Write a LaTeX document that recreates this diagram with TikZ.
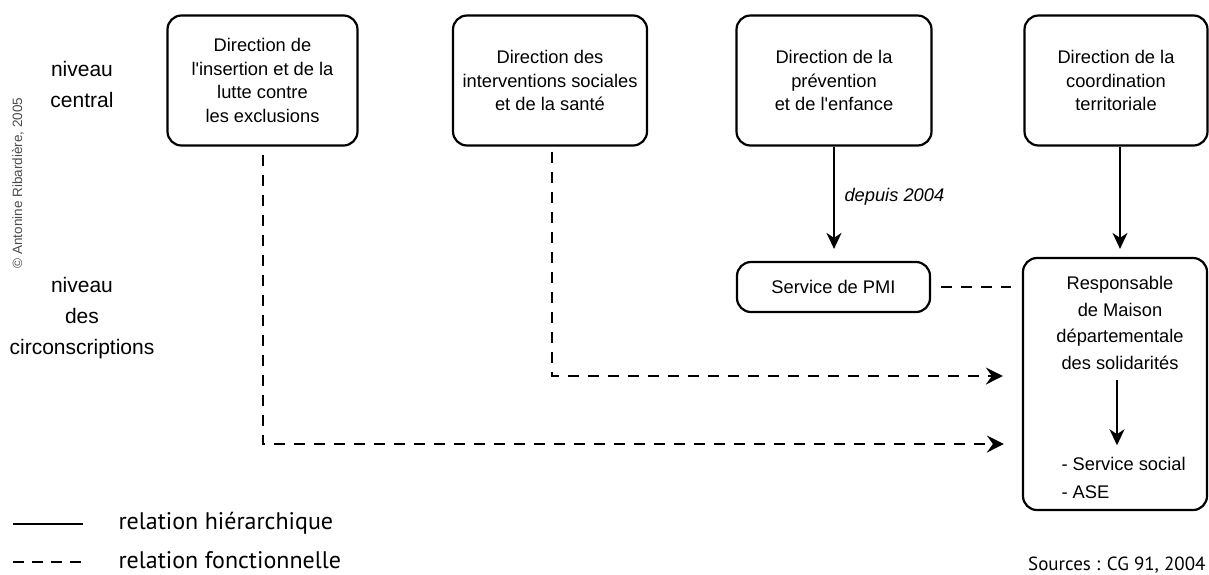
\documentclass[tikz,border=0pt]{standalone}
\usepackage{fontspec}
\setmainfont{Liberation Sans}[Ligatures=TeXOff]
\newfontfamily\legendfont{PT Sans}
\usetikzlibrary{arrows.meta,calc}
\begin{document}
\begin{tikzpicture}[x=1pt,y=-1pt,
  box/.style={draw, line width=2.2pt, rounded corners=14pt, align=center, inner sep=0pt, font=\fontsize{18.3}{23.5}\selectfont},
  hier/.style={line width=2pt, -{Stealth[length=16pt,width=15pt,inset=5pt]}},
  func/.style={line width=2.2pt, dash pattern=on 11pt off 9pt},
  funcarr/.style={func, -{Stealth[length=17pt,width=17pt,inset=6pt]}},
  lbl/.style={align=center, font=\fontsize{21}{31}\selectfont},
  leg/.style={anchor=west, font=\legendfont\fontsize{24}{28}\selectfont}
]
\useasboundingbox (0,0) rectangle (1209,574);
\fill[white] (0,0) rectangle (1209,574);

% left labels
\node[rotate=90, text=black!70, font=\fontsize{13.5}{16}\selectfont] (copy) at (18,183) {© Antonine Ribardière, 2005};
\node[lbl] (nc) at (82,84) {niveau\\central};
\node[lbl] (nd) at (82,318) {niveau\\des\\circonscriptions};

% top boxes
\node[box, minimum width=190pt, minimum height=130pt] (b1) at (262.5,80.5) {Direction de\\l'insertion et de la\\lutte contre\\les exclusions};
\node[box, minimum width=194pt, minimum height=130pt] (b2) at (550,80.5) {Direction des\\interventions sociales\\et de la santé};
\node[box, minimum width=195pt, minimum height=130pt] (b3) at (834,80.5) {Direction de la\\prévention\\et de l'enfance};
\node[box, minimum width=183pt, minimum height=130pt] (b4) at (1116,80.5) {Direction de la\\coordination\\territoriale};

% lower boxes
\node[box, minimum width=193pt, minimum height=50pt] (pmi) at (833.5,287) {Service de PMI};
\node[draw, line width=2.2pt, rounded corners=14pt, minimum width=184pt, minimum height=252pt, inner sep=0pt] (mds) at (1115,384) {};
\node[align=center, font=\fontsize{18.3}{26.5}\selectfont] (resp) at (1120,323) {Responsable\\de Maison\\départementale\\des solidarités};
\node[align=left, anchor=west, font=\fontsize{18.3}{28}\selectfont] (svc) at (1058,478) {- Service social\\- ASE};

% hierarchical arrows
\draw[hier, shorten >=12pt] (b3.south) -- (b3.south |- pmi.north);
\node[anchor=west, font=\itshape\fontsize{18.3}{22}\selectfont] (dep) at (841,197) {depuis 2004};
\draw[hier, shorten >=8pt] ([xshift=4pt]b4.south) -- ([xshift=4pt]b4.south |- mds.north);
\draw[hier, shorten <=7pt, shorten >=8.5pt] ([xshift=-3pt]resp.south) -- ([xshift=-3pt]resp.south |- svc.north);

% functional relations
\coordinate (y1) at (0,376);
\coordinate (y2) at (0,444);
\draw[funcarr, shorten >=19pt] ([xshift=2pt,yshift=-5pt]b2.south) |- (mds.west |- y1);
\draw[funcarr, shorten >=18pt] ([xshift=0.5pt,yshift=-8pt]b1.south) |- (mds.west |- y2);
\draw[func, shorten <=10pt, shorten >=11pt] (pmi.east) -- (mds.west |- pmi.east);

% legend
\coordinate (ls1) at (13,524);
\coordinate (ls2) at (83,524);
\coordinate (ld1) at (13,562);
\coordinate (ld2) at (83,562);
\draw[line width=2.2pt] (ls1) -- (ls2);
\draw[line width=2.2pt, dash pattern=on 11pt off 8pt] (ld1) -- (ld2);
\node[leg] (lt1) at (115,523) {relation hiérarchique};
\node[leg] (lt2) at (115,560) {relation fonctionnelle};
\node[anchor=east, font=\legendfont\fontsize{19}{22}\selectfont] (src) at (1209,565) {Sources : CG 91, 2004};
\end{tikzpicture}
\end{document}
